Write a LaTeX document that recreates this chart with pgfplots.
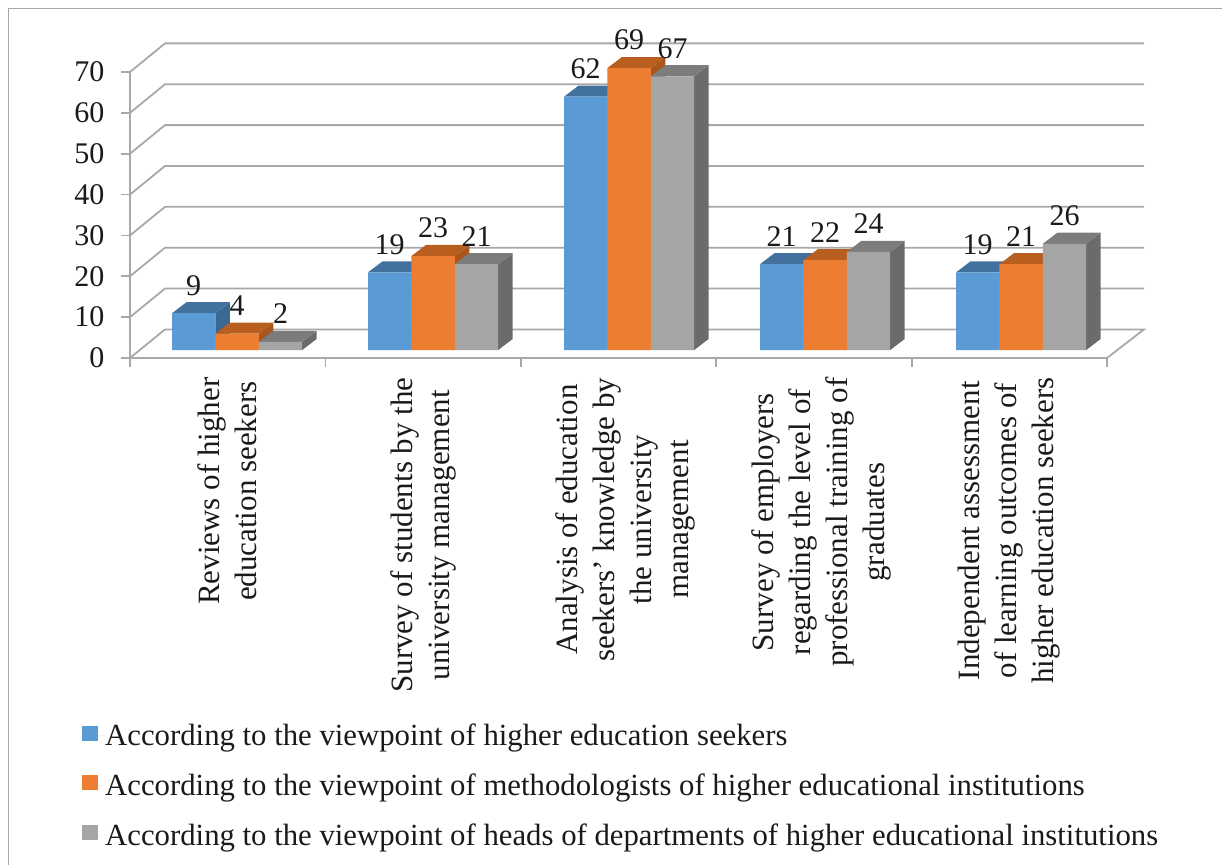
\documentclass[border=0pt]{standalone}
\usepackage{pgfplots}
\pgfplotsset{compat=1.18}
\usepackage{fontspec}
\setmainfont{Liberation Serif}
\definecolor{cblue}{HTML}{5B9BD5}
\definecolor{corange}{HTML}{ED7D31}
\definecolor{cgray}{HTML}{A5A5A5}
\definecolor{tblue}{HTML}{41719C}
\definecolor{torange}{HTML}{B85F20}
\definecolor{tgray}{HTML}{7C7C7C}
\definecolor{sblue}{HTML}{3B6890}
\definecolor{sorange}{HTML}{A9561C}
\definecolor{sgray}{HTML}{6B6B6B}
\definecolor{gridc}{HTML}{A8A8A8}
\definecolor{inkc}{HTML}{1A1A1A}
\newcommand\numfont{\fontsize{30}{36}\selectfont}
\newcommand\catfont{\fontsize{31}{37}\selectfont}
\newcommand\legfont{\fontsize{30.75}{36}\selectfont}
% side and top faces of one bar: left edge, value, top colour, side colour
\newcommand\threeD[4]{%
  \pgfmathsetmacro\xa{#1+43.4}\pgfmathsetmacro\xb{#1+14.5}\pgfmathsetmacro\xc{#1+57.9}\pgfmathsetmacro\vb{#2+2.7}%
  \addplot[fill=#4,draw=none,forget plot] coordinates {(\xa,0) (\xa,#2) (\xc,\vb) (\xc,2.7)} -- cycle;
  \addplot[fill=#3,draw=none,forget plot] coordinates {(#1,#2) (\xa,#2) (\xc,\vb) (\xb,\vb)} -- cycle;
}
\pgfplotsset{
  base/.style={scale only axis,width=977pt,height=286pt,xmin=130,xmax=1107,ymin=0,ymax=70,clip=false},
  front/.style={ybar,bar width=43.4,bar shift=0pt,draw=none,fill=#1,
    /pgf/number format/assume math mode=true,
    nodes near coords,
    every node near coord/.append style={font=\numfont,anchor=center,yshift=28pt,inner sep=0pt,text=inkc},
    legend image code/.code={\fill[#1] (0pt,-5pt) rectangle (16pt,10pt);\path (0pt,0pt) -- (23pt,0pt);}},
}
\begin{document}
\begin{tikzpicture}
\path[use as bounding box] (0,0) rectangle (1222pt,865pt);
\draw[gridc,line width=1.8pt] (8.5pt,0) -- (8.5pt,856.5pt) -- (1222pt,856.5pt);
\begin{axis}[base,at={(130pt,507pt)},anchor=south west,
  axis x line*=bottom,axis y line*=left,axis line style={gridc,line width=1.8pt,-},
  tick style={gridc,line width=1.8pt},
  tick align=outside,major tick length=9pt,
  xtick={130,325.4,520.8,716.2,911.6,1107},xticklabels={,,,,,},
  ytick={0,10,20,30,40,50,60,70},
  yticklabel style={font=\numfont,/pgf/number format/assume math mode=true,text=inkc,xshift=-13pt},
  extra x ticks={227.7,423.5,625,821,1009.3},
  extra x tick style={major tick length=0pt},
  extra x tick labels={{Reviews of higher\\education seekers},{Survey of students by the\\university management},{Analysis of education\\seekers' knowledge by\\the university\\management},{Survey of employers\\regarding the level of\\professional training of\\graduates},{Independent assessment\\of learning outcomes of\\higher education seekers}},
  xticklabel style={font=\catfont,rotate=90,anchor=east,align=center,xshift=-16pt,text=inkc},
]
\addplot[gridc,line width=1.8pt] coordinates {(130,0) (165,7) (1144,7) (1107,0)};
\addplot[gridc,line width=1.8pt] coordinates {(130,10) (165,17) (1144,17)};
\addplot[gridc,line width=1.8pt] coordinates {(130,20) (165,27) (1144,27)};
\addplot[gridc,line width=1.8pt] coordinates {(130,30) (165,37) (1144,37)};
\addplot[gridc,line width=1.8pt] coordinates {(130,40) (165,47) (1144,47)};
\addplot[gridc,line width=1.8pt] coordinates {(130,50) (165,57) (1144,57)};
\addplot[gridc,line width=1.8pt] coordinates {(130,60) (165,67) (1144,67)};
\addplot[gridc,line width=1.8pt] coordinates {(130,70) (165,77) (1144,77)};
\end{axis}
\begin{axis}[base,at={(130pt,515pt)},anchor=south west,hide axis,
  legend cell align=left,
  legend style={at={(-0.0491,-1.307)},anchor=north west,draw=none,fill=none,
    font=\legfont,row sep=26.7pt,inner sep=0pt,
    nodes={inner sep=0pt,text=inkc}},
]
\threeD{172}{9}{tblue}{sblue}
\threeD{368}{19}{tblue}{sblue}
\threeD{564}{62}{tblue}{sblue}
\threeD{760}{21}{tblue}{sblue}
\threeD{956}{19}{tblue}{sblue}
\addplot[front=cblue] coordinates {(193.7,9) (389.7,19) (585.7,62) (781.7,21) (977.7,19)};
\addlegendentry{According to the viewpoint of higher education seekers}
\threeD{215.4}{4}{torange}{sorange}
\threeD{411.4}{23}{torange}{sorange}
\threeD{607.4}{69}{torange}{sorange}
\threeD{803.4}{22}{torange}{sorange}
\threeD{999.4}{21}{torange}{sorange}
\addplot[front=corange] coordinates {(237.1,4) (433.1,23) (629.1,69) (825.1,22) (1021.1,21)};
\addlegendentry{According to the viewpoint of methodologists of higher educational institutions}
\threeD{258.8}{2}{tgray}{sgray}
\threeD{454.8}{21}{tgray}{sgray}
\threeD{650.8}{67}{tgray}{sgray}
\threeD{846.8}{24}{tgray}{sgray}
\threeD{1042.8}{26}{tgray}{sgray}
\addplot[front=cgray] coordinates {(280.5,2) (476.5,21) (672.5,67) (868.5,24) (1064.5,26)};
\addlegendentry{According to the viewpoint of heads of departments of higher educational institutions}
\end{axis}
\end{tikzpicture}
\end{document}
